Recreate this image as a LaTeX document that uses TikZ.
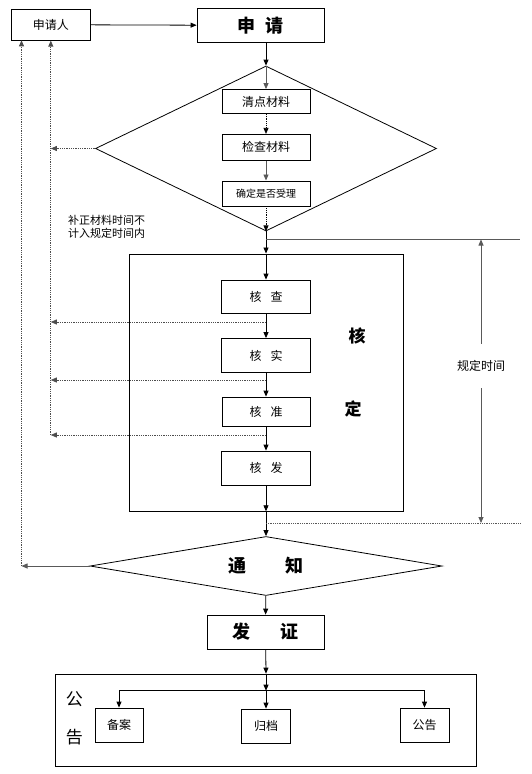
\documentclass[tikz,border=0pt]{standalone}
\usepackage{fontspec}
\setmainfont{Noto Sans CJK SC}
\usepackage{tikz}
\usetikzlibrary{arrows.meta,shapes.geometric}

\begin{document}
\begin{tikzpicture}[x=1pt,y=-1pt,line width=0.8pt,
	box/.style={draw,inner sep=0pt,minimum width=88pt,minimum height=26pt,font=\fontsize{12}{12}\selectfont},
	bigbox/.style={draw,inner sep=0pt,font=\fontsize{18}{18}\selectfont\bfseries},
	mark text/.style={inner sep=0pt,font=\fontsize{17}{17}\selectfont\bfseries},
	flow/.style={-{Triangle[length=6pt,width=5pt]}},
	back/.style={flow,densely dotted,gray!60!black}]
\useasboundingbox (0,0) rectangle (531,774);

\node [box,minimum width=79pt,minimum height=31pt] (applicant) at (50.8,24.7) {申请人};
\node [bigbox,minimum width=127pt,minimum height=34pt] (apply) at (260.5,25.4) {申\hspace{10pt}请};

\node [diamond,draw,inner sep=0pt,minimum width=341pt,minimum height=165pt] (check) at (266,148.5) {};
\node [box,minimum height=24pt] (count) at (266,101.5) {清点材料};
\node [box] (inspect) at (266,147.3) {检查材料};
\node [box,minimum height=25pt,font=\fontsize{10}{10}\selectfont] (accept) at (266,193.4) {确定是否受理};
\node [inner sep=0pt,align=left,font=\fontsize{11}{13}\selectfont] (note) at (106.5,227) {补正材料时间不\\计入规定时间内};

\node [draw,inner sep=0pt,minimum width=274pt,minimum height=257pt] (verify) at (266,382.4) {};
\node [box,minimum width=89pt,minimum height=33pt] (v1) at (266,296.5) {核\hspace{9pt}查};
\node [box,minimum width=89pt,minimum height=34pt] (v2) at (266,355.5) {核\hspace{9pt}实};
\node [box,minimum height=29pt] (v3) at (266,411.5) {核\hspace{9pt}准};
\node [box,minimum width=89pt,minimum height=34pt] (v4) at (266,468) {核\hspace{9pt}发};
\node [mark text] (hz1) at (357,335.6) {核};
\node [mark text] (hz2) at (353,408.5) {定};

\node [inner sep=0pt,minimum height=44pt,font=\fontsize{12}{12}\selectfont] (limit) at (481,366) {规定时间};

\node [diamond,draw,aspect=6,inner sep=0pt,minimum width=352pt,minimum height=59pt,font=\fontsize{18}{18}\selectfont\bfseries] (notify) at (266,566) {通\hspace{40pt}知};
\node [bigbox,minimum width=117pt,minimum height=34pt] (issue) at (265.5,632) {发\hspace{30pt}证};

\node [draw,inner sep=0pt,minimum width=421pt,minimum height=92.5pt] (publish) at (266,720.3) {};
\node [box,minimum width=48pt,minimum height=34pt] (file) at (119,725) {备案};
\node [box,minimum width=49pt,minimum height=34pt] (archive) at (266,726) {归档};
\node [box,minimum width=49pt,minimum height=34pt] (notice) at (424.5,725) {公告};
\node [mark text,font=\fontsize{17}{17}\selectfont] (gong) at (74.4,699) {公};
\node [mark text,font=\fontsize{17}{17}\selectfont] (gao) at (74.4,736.8) {告};

\coordinate (ret1) at (21.5,40.3);
\coordinate (fb1) at (266,322);
\coordinate (fb2) at (266,380);
\coordinate (fb3) at (266,435);
\coordinate (t1) at (266,239.5);
\coordinate (t2) at (520,239.5);
\coordinate (b1) at (266,523);
\coordinate (b2) at (520,523);
\coordinate (branch) at (266,690.7);

\draw [flow] (applicant) -- (apply);
\draw [flow] (apply.south -| check.north) -- (check.north);
\draw [flow,gray!70!black] (check.north) -- (count);
\draw [flow,densely dotted] (count) -- (inspect);
\draw [flow,gray!70!black] (inspect) -- (accept);
\draw [flow,densely dotted] (accept) -- (check.south);
\draw [flow] (check.south) -- (verify.north);
\draw [flow] (verify.north) -- (v1);
\draw [flow] (v1) -- (v2);
\draw [flow] (v2) -- (v3);
\draw [flow] (v3) -- (v4);
\draw [flow] (v4) -- (verify.south);
\draw [flow] (verify.south) -- (notify.north);
\draw [flow] (notify) -- (issue);
\draw [flow] (issue) -- (publish.north);
\draw [flow] (publish.north) -- (branch);
\draw [flow] (branch) -- (archive);
\draw [flow] (branch) -| (file);
\draw [flow] (branch) -| (notice);

\draw [back] (check.west) -- (check.west -| applicant.south);
\draw [back] (fb1) -- (fb1 -| applicant.south);
\draw [back] (fb2) -- (fb2 -| applicant.south);
\draw [back] (fb3) -- (fb3 -| applicant.south);
\draw [back] (fb3 -| applicant.south) -- (applicant.south);
\draw [flow,gray!70!black] (notify.west) -- (notify.west -| ret1);
\draw [back] (notify.west -| ret1) -- (ret1);

\draw [gray!70!black] (t1) -- (t2);
\draw [densely dotted,gray!70!black] (b1) -- (b2);
\draw [flow,gray!70!black] (limit.north) -- (limit.north |- t1);
\draw [flow,gray!70!black] (limit.south) -- (limit.south |- b1);
\end{tikzpicture}
\end{document}
